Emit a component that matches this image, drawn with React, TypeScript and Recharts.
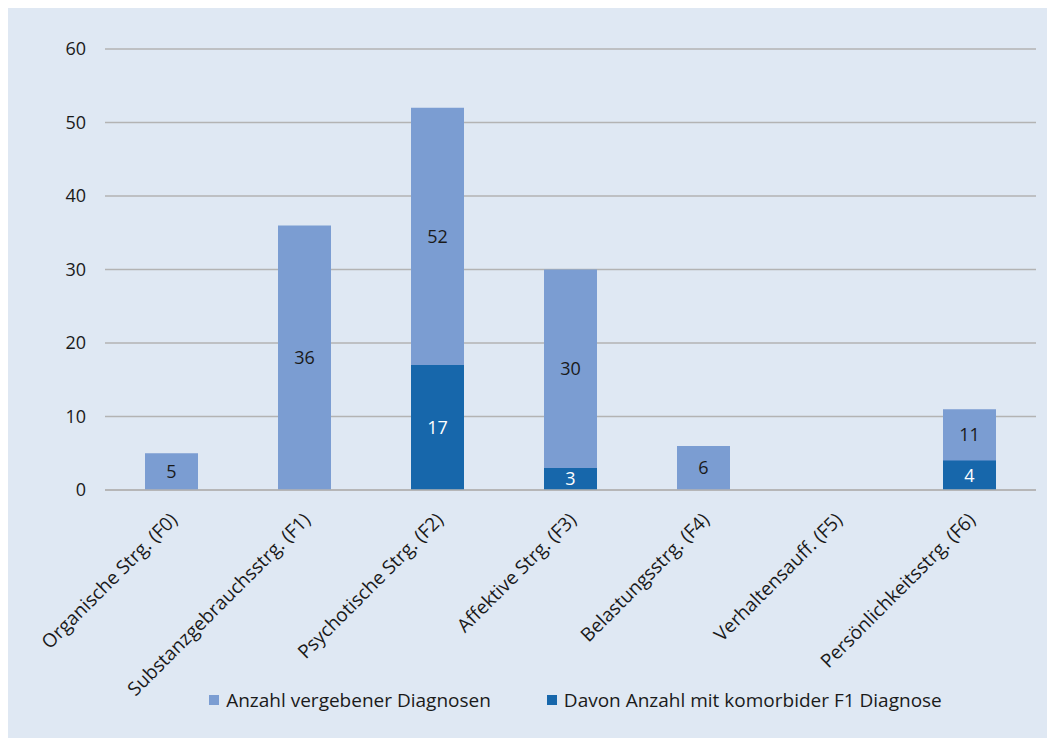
import { BarChart, Bar, XAxis, YAxis, CartesianGrid, Legend, LabelList } from 'recharts'

const categories = [
  'Organische Strg. (F0)',
  'Substanzgebrauchsstrg. (F1)',
  'Psychotische Strg. (F2)',
  'Affektive Strg. (F3)',
  'Belastungsstrg. (F4)',
  'Verhaltensauff. (F5)',
  'Persönlichkeitsstrg. (F6)',
]
const diagnosen = [5, 36, 52, 30, 6, 0, 11]
const komorbid = [0, 0, 17, 3, 0, 0, 4]
const yTicks = [0, 10, 20, 30, 40, 50, 60]

const LIGHT = '#7b9dd2'
const DARK = '#1767ab'
const BG = '#dfe8f3'
const FONT = '"Open Sans", sans-serif'
const FS = 18

const data = categories.map((name, i) => ({
  name,
  diagnosen: diagnosen[i],
  komorbid: komorbid[i],
}))

// rotated category label, ending just below the tick
function CategoryTick({ x, y, payload }: any) {
  return (
    <g transform={`translate(${x + 7},${y + 23})`}>
      <text transform="rotate(-45)" textAnchor="end" fill="#1a1a1a" fontSize={19} fontFamily={FONT}>
        {payload.value}
      </text>
    </g>
  )
}

// total label, centred in the part of the light bar not covered by the dark one
function TotalLabel(props: any) {
  const { x, y, width, height, value } = props
  const [total, dark] = value as [number, number]
  if (!total) return null
  const cy = y + (height * (1 - dark / total)) / 2
  return (
    <text x={x + width / 2} y={cy} dy="0.35em" textAnchor="middle" fill="#1a1a1a" fontSize={FS} fontFamily={FONT}>
      {total}
    </text>
  )
}

function InnerLabel(props: any) {
  const { x, y, width, height, value } = props
  if (!value) return null
  return (
    <text x={x + width / 2} y={y + height / 2} dy="0.35em" textAnchor="middle" fill="#ffffff" fontSize={FS} fontFamily={FONT}>
      {value}
    </text>
  )
}

function LegendBox() {
  const items = [
    { label: 'Anzahl vergebener Diagnosen', color: LIGHT },
    { label: 'Davon Anzahl mit komorbider F1 Diagnose', color: DARK },
  ]
  return (
    <div style={{ display: 'flex', justifyContent: 'center', gap: 56, paddingLeft: 107, fontFamily: FONT, fontSize: 19, color: '#1a1a1a' }}>
      {items.map(it => (
        <div key={it.label} style={{ display: 'flex', alignItems: 'center' }}>
          <span style={{ width: 10, height: 10, background: it.color, marginRight: 7, display: 'inline-block' }} />
          {it.label}
        </div>
      ))}
    </div>
  )
}

export default function App() {
  return (
    <div style={{ width: 1047, height: 731, background: BG, marginTop: -1 }}>
      <BarChart
        width={1047}
        height={731}
        data={data}
        barGap={-53}
        margin={{ top: 42, right: 19, left: 0, bottom: 25 }}
      >
        <CartesianGrid vertical={false} stroke="#b3b3b3" strokeWidth={1.3} />
        <XAxis
          dataKey="name"
          interval={0}
          tick={<CategoryTick />}
          tickLine={false}
          axisLine={{ stroke: '#b3b3b3', strokeWidth: 1.3 }}
          height={197}
        />
        <YAxis
          width={97}
          domain={[0, 60]}
          ticks={yTicks}
          axisLine={false}
          tickLine={false}
          tickSize={0}
          tickMargin={19}
          tick={{ fill: '#1a1a1a', fontSize: FS, fontFamily: FONT }}
        />
        <Legend verticalAlign="bottom" content={<LegendBox />} />
        <Bar dataKey="diagnosen" fill={LIGHT} barSize={53} isAnimationActive={false}>
          <LabelList dataKey={(d: any) => [d.diagnosen, d.komorbid]} content={<TotalLabel />} />
        </Bar>
        <Bar dataKey="komorbid" fill={DARK} barSize={53} isAnimationActive={false}>
          <LabelList dataKey="komorbid" content={<InnerLabel />} />
        </Bar>
      </BarChart>
    </div>
  )
}
